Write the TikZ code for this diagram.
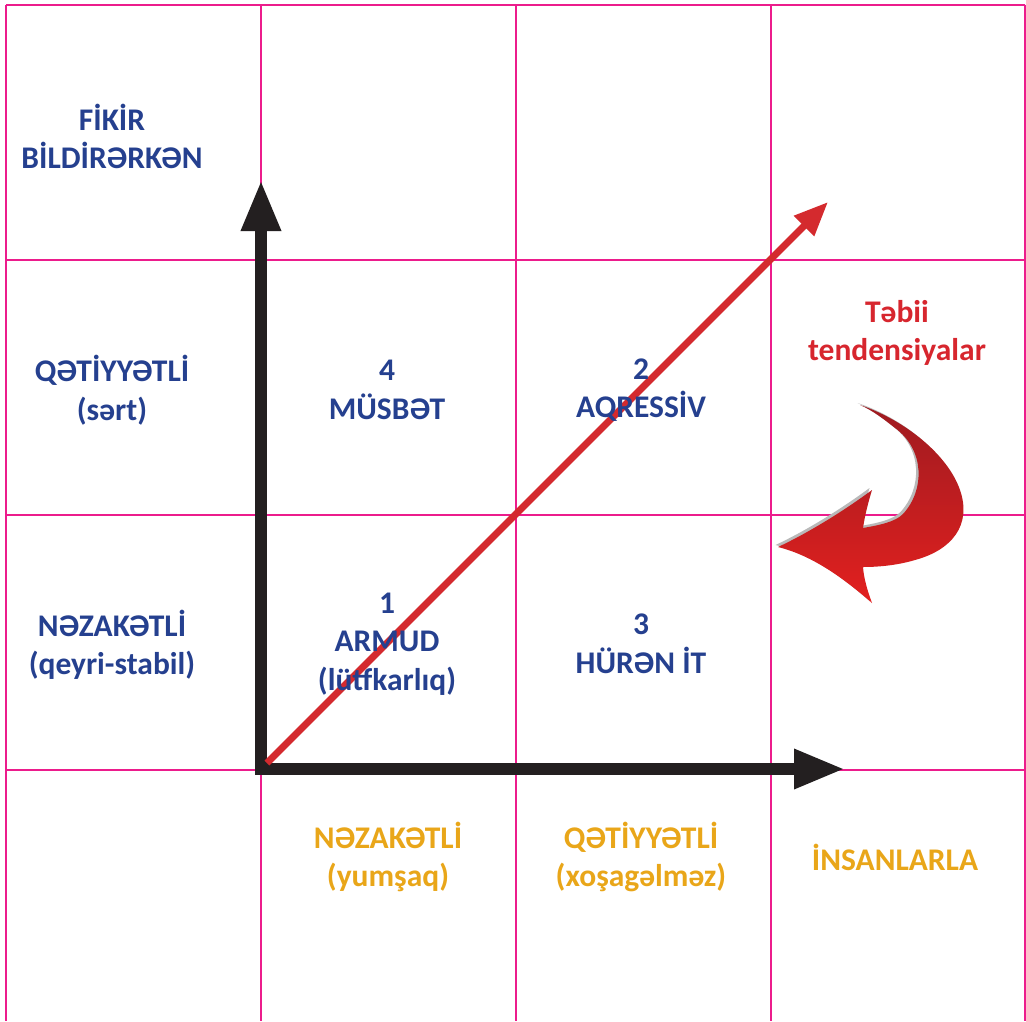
\documentclass[tikz,border=0pt]{standalone}
\usepackage{fontspec}
\setmainfont{Carlito}
\usetikzlibrary{arrows.meta}
\definecolor{gridpink}{HTML}{EC1C8C}
\definecolor{txtblue}{HTML}{25408F}
\definecolor{txtorange}{HTML}{E9A619}
\definecolor{txtred}{HTML}{D7262E}
\definecolor{axisblack}{HTML}{231F20}
\definecolor{arrred}{HTML}{D42A2E}
\definecolor{curvetop}{HTML}{9E1B20}
\definecolor{curvebot}{HTML}{E3201F}
\tikzset{
  gridline/.style={draw=gridpink, line width=1.5pt},
  lbl/.style={font=\fontsize{31.5}{38.5}\selectfont\bfseries, align=center, inner sep=0pt},
  bluelbl/.style={lbl, text=txtblue},
  orangelbl/.style={lbl, text=txtorange},
  redlbl/.style={lbl, text=txtred},
  bigtip/.tip={Triangle[width=37pt,length=51pt]},
}
\begin{document}
\begin{tikzpicture}[x=1pt,y=-1pt]
\useasboundingbox (0,0) rectangle (1026,1021);
\fill[white] (0,0) rectangle (1026,1021);
% grid
\foreach \xx in {6,261,516,771,1025} \draw[gridline] (\xx,4.5) -- (\xx,1021);
\foreach \yy in {5,260,515,770} \draw[gridline] (6,\yy) -- (1025,\yy);
% axes
\coordinate (vtip) at (261,180);
\coordinate (origin) at (261,769);
\coordinate (htip) at (845,769);
\draw[axisblack, line width=12pt, line join=miter, {bigtip}-{bigtip}] (vtip) -- (origin) -- (htip);
% red diagonal
\coordinate (rstart) at (267,763);
\coordinate (rtip) at (828,202);
\draw[arrred, line width=7pt, -{Triangle[width=27pt,length=34pt]}] (rstart) -- (rtip);
% curved arrow
\def\curvedpath{(860,405) .. controls (905,420) and (948,455) .. (960,490)
  .. controls (972,525) and (952,550) .. (915,560)
  .. controls (895,566) and (875,567) .. (863,567)
  .. controls (864,580) and (868,592) .. (872,603)
  .. controls (840,575) and (810,555) .. (778,547)
  .. controls (810,532) and (845,510) .. (872,490)
  .. controls (868,503) and (865,515) .. (863,528)
  .. controls (880,525) and (895,522) .. (903,514)
  .. controls (925,490) and (925,450) .. (895,428)
  .. controls (885,420) and (872,410) .. (860,405) -- cycle}
\fill[gray!55, shift={(-2.5,-2)}] \curvedpath;
\shade[top color=curvetop, bottom color=curvebot] \curvedpath;
% left column labels
\node[bluelbl] (fikir) at (112,136.5) {FİKİR\\BİLDİRƏRKƏN};
\node[bluelbl] (qetiyyetli) at (112,390) {QƏTİYYƏTLİ\\(sərt)};
\node[bluelbl] (nezaketli) at (112,645) {NƏZAKƏTLİ\\(qeyri-stabil)};
% quadrant labels
\node[bluelbl] (q4) at (387,390) {4\\MÜSBƏT};
\node[bluelbl] (q2) at (641,390) {2\\AQRESSİV};
\node[bluelbl] (q1) at (387,644) {1\\ARMUD\\(lütfkarlıq)};
\node[bluelbl] (q3) at (641,644) {3\\HÜRƏN İT};
% bottom labels
\node[orangelbl] (bnez) at (388,857) {NƏZAKƏTLİ\\(yumşaq)};
\node[orangelbl] (bqet) at (641,857) {QƏTİYYƏTLİ\\(xoşagəlməz)};
\node[orangelbl] (insan) at (895,857) {İNSANLARLA};
% natural tendencies
\node[redlbl] (tebii) at (897,333) {Təbii\\tendensiyalar};
\end{tikzpicture}
\end{document}
